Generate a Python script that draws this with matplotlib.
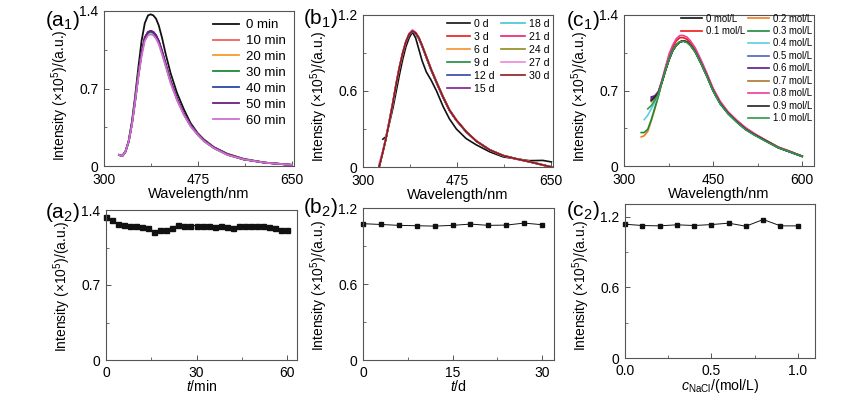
import numpy as np
import matplotlib
matplotlib.use("Agg")
import matplotlib.pyplot as plt
from matplotlib.ticker import FixedLocator

plt.rcParams['font.family'] = ['Liberation Sans', 'DejaVu Sans']
plt.rcParams['mathtext.fontset'] = 'custom'
plt.rcParams['mathtext.rm'] = 'Liberation Sans'
plt.rcParams['mathtext.it'] = 'Liberation Sans:italic'
plt.rcParams['mathtext.bf'] = 'Liberation Sans:bold'

nan = np.nan

# ---------------- (a1) spectra vs time (min) ----------------
wl_a = [328, 334, 340, 346, 352, 358, 364, 370, 376, 382, 387, 392, 397, 402, 408,
        415, 424, 436, 449, 461, 474, 486, 505, 530, 560, 600, 650]
a1_labels = ["0 min", "10 min", "20 min", "30 min", "40 min", "50 min", "60 min"]
a1_colors = ["#111111", "#f0605a", "#f79a2e", "#1c8a3c", "#2e46a8", "#6b1f80", "#cf6fd0"]
a1_0 = [0.10, 0.09, 0.13, 0.23, 0.40, 0.63, 0.89, 1.13, 1.29, 1.36, 1.37, 1.36, 1.33, 1.27, 1.16,
        1.01, 0.84, 0.66, 0.51, 0.39, 0.30, 0.24, 0.17, 0.11, 0.065, 0.03, 0.01]
a1_10 = [0.10, 0.09, 0.13, 0.22, 0.38, 0.59, 0.82, 1.02, 1.16, 1.21, 1.22, 1.21, 1.18, 1.13, 1.04,
         0.92, 0.77, 0.61, 0.47, 0.37, 0.29, 0.23, 0.165, 0.105, 0.06, 0.03, 0.01]
a1_20 = [0.10, 0.09, 0.13, 0.22, 0.38, 0.59, 0.82, 1.02, 1.155, 1.205, 1.215, 1.205, 1.175, 1.125, 1.035,
         0.915, 0.765, 0.605, 0.47, 0.37, 0.29, 0.23, 0.165, 0.105, 0.06, 0.03, 0.01]
a1_30 = [0.10, 0.09, 0.13, 0.22, 0.38, 0.59, 0.82, 1.015, 1.15, 1.20, 1.21, 1.20, 1.17, 1.12, 1.03,
         0.91, 0.76, 0.60, 0.465, 0.365, 0.285, 0.225, 0.16, 0.10, 0.06, 0.03, 0.01]
a1_40 = [0.10, 0.09, 0.13, 0.22, 0.38, 0.59, 0.82, 1.02, 1.16, 1.21, 1.22, 1.21, 1.18, 1.13, 1.04,
         0.92, 0.77, 0.61, 0.47, 0.37, 0.29, 0.23, 0.165, 0.105, 0.06, 0.03, 0.01]
a1_50 = [0.10, 0.09, 0.13, 0.22, 0.38, 0.59, 0.82, 1.02, 1.16, 1.21, 1.22, 1.21, 1.18, 1.13, 1.04,
         0.92, 0.77, 0.61, 0.47, 0.37, 0.29, 0.23, 0.165, 0.105, 0.06, 0.03, 0.01]
a1_60 = [0.10, 0.09, 0.13, 0.22, 0.37, 0.58, 0.80, 0.99, 1.13, 1.18, 1.19, 1.18, 1.15, 1.10, 1.01,
         0.90, 0.75, 0.595, 0.46, 0.36, 0.285, 0.225, 0.16, 0.10, 0.06, 0.03, 0.01]
a1_series = [a1_0, a1_10, a1_20, a1_30, a1_40, a1_50, a1_60]

# ---------------- (b1) spectra vs time (d) ----------------
wl_b = [330, 337, 343, 350, 356, 362, 368, 374, 380, 386, 392, 398, 404, 410, 418,
        427, 437, 449, 461, 474, 492, 511, 536, 561, 586, 610, 635, 651]
b1_labels = ["0 d", "3 d", "6 d", "9 d", "12 d", "15 d", "18 d", "21 d", "24 d", "27 d", "30 d"]
b1_colors = ["#111111", "#f01818", "#f7902a", "#1c8a3c", "#2e46a8", "#7a1f8c",
             "#3fc8d0", "#ea1e7c", "#8d8a1e", "#ee88d2", "#8e1a1a"]
b1_0 = [nan, 0.22, 0.24, 0.36, 0.47, 0.60, 0.73, 0.85, 0.95, 1.02, 1.065, 1.02, 0.93, 0.84, 0.75,
        0.685, 0.60, 0.48, 0.38, 0.30, 0.225, 0.175, 0.12, 0.08, 0.064, 0.05, 0.052, 0.04]
b1_3 = [0.0, 0.12, 0.23, 0.38, 0.515, 0.66, 0.79, 0.90, 0.99, 1.05, 1.075, 1.06, 1.02, 0.96, 0.87,
        0.77, 0.67, 0.555, 0.45, 0.37, 0.28, 0.205, 0.135, 0.09, 0.064, 0.042, 0.016, 0.0]
b1_6 = [0.0, 0.12, 0.23, 0.38, 0.51, 0.655, 0.785, 0.895, 0.985, 1.045, 1.07, 1.055, 1.015, 0.955, 0.865,
        0.765, 0.665, 0.55, 0.447, 0.368, 0.279, 0.204, 0.135, 0.09, 0.064, 0.042, 0.016, 0.0]
b1_9 = [0.0, 0.12, 0.23, 0.38, 0.51, 0.655, 0.785, 0.895, 0.985, 1.045, 1.07, 1.055, 1.015, 0.955, 0.865,
        0.765, 0.665, 0.55, 0.447, 0.368, 0.279, 0.204, 0.135, 0.09, 0.064, 0.042, 0.016, 0.0]
b1_12 = [0.0, 0.12, 0.23, 0.38, 0.51, 0.655, 0.785, 0.895, 0.985, 1.045, 1.07, 1.055, 1.015, 0.955, 0.865,
         0.765, 0.665, 0.55, 0.447, 0.368, 0.279, 0.204, 0.135, 0.09, 0.064, 0.042, 0.016, 0.0]
b1_15 = [0.0, 0.12, 0.23, 0.38, 0.51, 0.655, 0.785, 0.895, 0.985, 1.045, 1.07, 1.055, 1.015, 0.955, 0.865,
         0.765, 0.665, 0.55, 0.447, 0.368, 0.279, 0.204, 0.135, 0.09, 0.064, 0.042, 0.016, 0.0]
b1_18 = [0.0, 0.12, 0.23, 0.38, 0.515, 0.66, 0.79, 0.90, 0.99, 1.05, 1.075, 1.06, 1.02, 0.96, 0.87,
         0.77, 0.67, 0.555, 0.45, 0.37, 0.28, 0.205, 0.135, 0.09, 0.064, 0.042, 0.016, 0.0]
b1_21 = [0.0, 0.12, 0.23, 0.38, 0.515, 0.66, 0.79, 0.90, 0.99, 1.05, 1.075, 1.06, 1.02, 0.96, 0.87,
         0.77, 0.67, 0.555, 0.45, 0.37, 0.28, 0.205, 0.135, 0.09, 0.062, 0.04, 0.015, 0.0]
b1_24 = [0.0, 0.12, 0.23, 0.38, 0.515, 0.66, 0.79, 0.90, 0.99, 1.05, 1.075, 1.062, 1.025, 0.965, 0.875,
         0.775, 0.675, 0.56, 0.455, 0.372, 0.282, 0.207, 0.137, 0.092, 0.066, 0.044, 0.018, 0.0]
b1_27 = [0.03, 0.13, 0.24, 0.39, 0.52, 0.665, 0.795, 0.905, 0.995, 1.055, 1.085, 1.065, 1.02, 0.96, 0.87,
         0.77, 0.67, 0.555, 0.45, 0.37, 0.28, 0.205, 0.135, 0.09, 0.064, 0.042, 0.016, 0.0]
b1_30 = [0.0, 0.12, 0.23, 0.38, 0.515, 0.66, 0.79, 0.90, 0.99, 1.05, 1.075, 1.06, 1.02, 0.96, 0.87,
         0.77, 0.67, 0.555, 0.45, 0.37, 0.28, 0.205, 0.135, 0.09, 0.064, 0.042, 0.016, 0.0]
b1_series = [b1_0, b1_3, b1_6, b1_9, b1_12, b1_15, b1_18, b1_21, b1_24, b1_27, b1_30]

# ---------------- (c1) spectra vs NaCl ----------------
wl_c = [329, 334, 340, 346, 352, 358, 364, 370, 376, 382, 388, 394, 400, 406, 412,
        420, 430, 440, 450, 462, 475, 490, 505, 520, 540, 560, 580, 600]
c1_labels = ["0 mol/L", "0.1 mol/L", "0.2 mol/L", "0.3 mol/L", "0.4 mol/L", "0.5 mol/L",
             "0.6 mol/L", "0.7 mol/L", "0.8 mol/L", "0.9 mol/L", "1.0 mol/L"]
c1_colors = ["#111111", "#f01818", "#f07f1e", "#1c8a3c", "#5ad0e0", "#4a64c0",
             "#5a1a8a", "#a8782e", "#ec3d9a", "#222222", "#2e9a48"]
c1_00 = [nan, nan, nan, 0.62, 0.64, 0.68, 0.78, 0.89, 0.99, 1.07, 1.12, 1.15, 1.16, 1.15, 1.12,
         1.06, 0.95, 0.83, 0.70, 0.58, 0.49, 0.41, 0.34, 0.29, 0.23, 0.17, 0.13, 0.09]
c1_01 = [nan, nan, nan, 0.60, 0.63, 0.68, 0.79, 0.91, 1.02, 1.10, 1.16, 1.19, 1.19, 1.175, 1.14,
         1.08, 0.97, 0.845, 0.715, 0.595, 0.50, 0.42, 0.35, 0.295, 0.235, 0.175, 0.135, 0.09]
c1_02 = [0.27, 0.28, 0.32, 0.42, 0.53, 0.65, 0.78, 0.89, 0.99, 1.07, 1.12, 1.15, 1.16, 1.15, 1.12,
         1.06, 0.95, 0.83, 0.70, 0.58, 0.49, 0.41, 0.34, 0.29, 0.23, 0.17, 0.13, 0.09]
c1_03 = [0.31, 0.31, 0.34, 0.43, 0.54, 0.65, 0.78, 0.89, 0.99, 1.07, 1.12, 1.15, 1.16, 1.15, 1.12,
         1.06, 0.95, 0.83, 0.70, 0.58, 0.49, 0.41, 0.34, 0.29, 0.23, 0.17, 0.13, 0.09]
c1_04 = [nan, 0.43, 0.47, 0.53, 0.59, 0.67, 0.78, 0.89, 0.99, 1.07, 1.12, 1.15, 1.16, 1.15, 1.12,
         1.06, 0.95, 0.83, 0.70, 0.58, 0.49, 0.41, 0.34, 0.29, 0.23, 0.17, 0.13, 0.09]
c1_05 = [nan, nan, nan, 0.63, 0.65, 0.69, 0.78, 0.89, 0.99, 1.07, 1.12, 1.15, 1.16, 1.15, 1.12,
         1.06, 0.95, 0.83, 0.70, 0.58, 0.49, 0.41, 0.34, 0.29, 0.23, 0.17, 0.13, 0.09]
c1_06 = [nan, nan, nan, 0.64, 0.65, 0.69, 0.78, 0.89, 0.99, 1.07, 1.12, 1.15, 1.16, 1.15, 1.12,
         1.06, 0.95, 0.83, 0.70, 0.58, 0.49, 0.41, 0.34, 0.29, 0.23, 0.17, 0.13, 0.09]
c1_07 = [nan, nan, nan, 0.60, 0.63, 0.68, 0.78, 0.89, 0.99, 1.07, 1.12, 1.15, 1.16, 1.15, 1.12,
         1.06, 0.95, 0.83, 0.70, 0.58, 0.49, 0.41, 0.34, 0.29, 0.23, 0.17, 0.13, 0.09]
c1_08 = [nan, nan, nan, 0.61, 0.64, 0.69, 0.80, 0.92, 1.04, 1.12, 1.18, 1.21, 1.21, 1.195, 1.16,
         1.095, 0.98, 0.855, 0.72, 0.60, 0.505, 0.425, 0.355, 0.30, 0.235, 0.175, 0.135, 0.09]
c1_09 = [nan, nan, nan, 0.61, 0.64, 0.68, 0.78, 0.89, 0.99, 1.07, 1.12, 1.15, 1.16, 1.15, 1.12,
         1.06, 0.95, 0.83, 0.70, 0.58, 0.49, 0.41, 0.34, 0.29, 0.23, 0.17, 0.13, 0.09]
c1_10 = [nan, nan, 0.53, 0.56, 0.61, 0.67, 0.78, 0.89, 0.99, 1.07, 1.12, 1.15, 1.155, 1.145, 1.115,
         1.055, 0.945, 0.825, 0.695, 0.575, 0.485, 0.405, 0.335, 0.285, 0.225, 0.17, 0.13, 0.09]
c1_series = [c1_00, c1_01, c1_02, c1_03, c1_04, c1_05, c1_06, c1_07, c1_08, c1_09, c1_10]

# ---------------- bottom row: peak intensities ----------------
a2_t = list(range(0, 61, 2))
a2_I = [1.338, 1.308, 1.271, 1.262, 1.255, 1.252, 1.246, 1.231, 1.197, 1.215, 1.215,
        1.234, 1.258, 1.255, 1.255, 1.255, 1.252, 1.255, 1.246, 1.249, 1.246, 1.234,
        1.252, 1.252, 1.252, 1.252, 1.249, 1.246, 1.231, 1.218, 1.218]
b2_t = [0, 3, 6, 9, 12, 15, 18, 21, 24, 27, 30]
b2_I = [1.076, 1.070, 1.063, 1.060, 1.057, 1.063, 1.073, 1.063, 1.065, 1.081, 1.068]
c2_c = [0.0, 0.1, 0.2, 0.3, 0.4, 0.5, 0.6, 0.7, 0.8, 0.9, 1.0]
c2_I = [1.138, 1.127, 1.124, 1.133, 1.127, 1.135, 1.147, 1.121, 1.178, 1.124, 1.124]

W, H = 844, 393
fig = plt.figure(figsize=(W / 100, H / 100), dpi=100)
fig.patch.set_facecolor("white")


def pos(l, r, t, b):
    return [l / W, 1 - b / H, (r - l) / W, (b - t) / H]


YLABEL = "Intensity (×10$^5$)/(a.u.)"
SPINE = "#555555"


def style(ax, xt, xminor, yt, yminor, xlim, ylim, xtl=None, ytl=None, ylab_y=0.5, xpad=5.0):
    ax.set_xlim(*xlim)
    ax.set_ylim(*ylim)
    ax.set_xticks(xt)
    ax.set_yticks(yt)
    if xtl is not None:
        ax.set_xticklabels(xtl)
    if ytl is not None:
        ax.set_yticklabels(ytl)
    ax.xaxis.set_minor_locator(FixedLocator(xminor))
    ax.yaxis.set_minor_locator(FixedLocator(yminor))
    ax.tick_params(which="both", direction="in", color=SPINE, labelsize=10,
                   top=False, right=False)
    ax.tick_params(axis="x", which="major", pad=xpad)
    ax.tick_params(axis="y", which="major", pad=4)
    ax.tick_params(which="major", length=3.5, width=0.7)
    ax.tick_params(which="minor", length=2, width=0.6)
    for s in ax.spines.values():
        s.set_color(SPINE)
        s.set_linewidth(0.8)
    ax.set_ylabel(YLABEL, fontsize=10, labelpad=3)
    ax.yaxis.set_label_coords(-0.175, ylab_y)


# (a1)
ax = fig.add_axes(pos(104, 294, 11, 166))
for y, c, lab in zip(a1_series, a1_colors, a1_labels):
    ax.plot(wl_a, y, color=c, lw=1.3, label=lab)
style(ax, [300, 475, 650], [387.5, 562.5], [0, 0.7, 1.4], [0.35, 1.05],
      (300, 654), (0, 1.4), ytl=["0", "0.7", "1.4"], ylab_y=0.455)
ax.set_xlabel("Wavelength/nm", fontsize=10.5, labelpad=0)
ax.legend(loc="upper left", bbox_to_anchor=(213 / W, 1 - 19 / H), bbox_transform=fig.transFigure,
          frameon=False, fontsize=9.5, handlelength=2.0, handletextpad=0.5,
          labelspacing=0.28, borderpad=0, borderaxespad=0)

# (b1)
ax = fig.add_axes(pos(363, 553, 15, 167))
for y, c, lab in zip(b1_series, b1_colors, b1_labels):
    ax.plot(wl_b, y, color=c, lw=1.2, label=lab)
style(ax, [300, 475, 650], [387.5, 562.5], [0, 0.6, 1.2], [0.3, 0.9],
      (300, 654), (0, 1.2), ytl=["0", "0.6", "1.2"], ylab_y=0.465)
ax.set_xlabel("Wavelength/nm", fontsize=10.5, labelpad=0)
ax.legend(loc="upper left", bbox_to_anchor=(447 / W, 1 - 19 / H), bbox_transform=fig.transFigure,
          ncol=2, frameon=False, fontsize=7.6, handlelength=2.2, handletextpad=0.4,
          labelspacing=0.28, columnspacing=0.6, borderpad=0, borderaxespad=0)

# (c1)
ax = fig.add_axes(pos(624, 814, 15, 166))
lines = []
for y, c, lab in zip(c1_series, c1_colors, c1_labels):
    ln, = ax.plot(wl_c, y, color=c, lw=1.2, label=lab)
    lines.append(ln)
style(ax, [300, 450, 600], [375, 525], [0, 0.7, 1.4], [0.35, 1.05],
      (300, 620), (0, 1.4), ytl=["0", "0.7", "1.4"], ylab_y=0.465)
ax.set_xlabel("Wavelength/nm", fontsize=10.5, labelpad=0)
leg1 = ax.legend(handles=lines[:2], loc="upper left", bbox_to_anchor=(681 / W, 1 - 13.5 / H),
                 bbox_transform=fig.transFigure, frameon=False, fontsize=6.9,
                 handlelength=2.2, handletextpad=0.45, labelspacing=0.3,
                 borderpad=0, borderaxespad=0)
ax.add_artist(leg1)
ax.legend(handles=lines[2:], loc="upper left", bbox_to_anchor=(748 / W, 1 - 13.5 / H),
          bbox_transform=fig.transFigure, frameon=False, fontsize=6.9,
          handlelength=2.2, handletextpad=0.45, labelspacing=0.26,
          borderpad=0, borderaxespad=0)

# (a2)
ax = fig.add_axes(pos(106, 297, 210, 360))
ax.plot(a2_t, a2_I, color="#111111", lw=0.7, marker="s", ms=3.6, clip_on=False)
style(ax, [0, 30, 60], [15, 45], [0, 0.7, 1.4], [0.35, 1.05],
      (0, 63.3), (0, 1.4), ytl=["0", "0.7", "1.4"], ylab_y=0.49, xpad=4.6)
ax.set_xlabel("$t$/min", fontsize=10.2, labelpad=-1.0)

# (b2)
ax = fig.add_axes(pos(363, 554, 208, 360))
ax.plot(b2_t, b2_I, color="#111111", lw=0.7, marker="s", ms=3.3, clip_on=False)
style(ax, [0, 15, 30], [7.5, 22.5], [0, 0.6, 1.2], [0.3, 0.9],
      (0, 32), (0, 1.2), ytl=["0", "0.6", "1.2"], ylab_y=0.49, xpad=4.6)
ax.set_xlabel("$t$/d", fontsize=10.2, labelpad=-1.0)

# (c2)
ax = fig.add_axes(pos(625, 815, 204, 358))
ax.plot(c2_c, c2_I, color="#111111", lw=0.7, marker="s", ms=3.3, clip_on=False)
style(ax, [0, 0.5, 1.0], [0.25, 0.75], [0, 0.6, 1.2], [0.3, 0.9],
      (0, 1.1), (0, 1.31), xtl=["0.0", "0.5", "1.0"], ytl=["0", "0.6", "1.2"],
      ylab_y=0.47, xpad=4.6)
ax.set_xlabel("$c_{\\rm NaCl}$/(mol/L)", fontsize=10.2, labelpad=-1.0)

# panel labels
for txt, x, y in [("(a$_1$)", 45, 20), ("(b$_1$)", 303, 18), ("(c$_1$)", 566, 20),
                  ("(a$_2$)", 45, 213), ("(b$_2$)", 303, 208), ("(c$_2$)", 566, 211)]:
    fig.text(x / W, 1 - y / H, txt, fontsize=15, ha="left", va="center")

fig.savefig("out.png", dpi=100, facecolor="white")
